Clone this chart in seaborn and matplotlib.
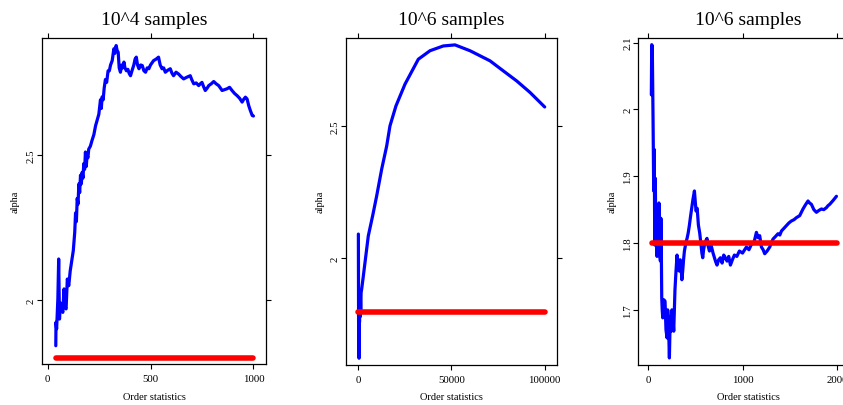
import matplotlib
matplotlib.use("Agg")
import matplotlib.pyplot as plt
import seaborn as sns
import pandas as pd

# ---------------- data ----------------
titles = ["10^4 samples", "10^6 samples", "10^6 samples"]
true_alpha = 1.8

p1_x = [40, 41, 44, 50, 54, 58, 62, 67, 74, 80, 85, 90, 96, 103, 110, 119, 125, 132,
        136, 140, 144, 148, 152, 156, 160, 164, 168, 172, 176, 180, 184, 188, 192,
        196, 200, 208, 216, 225, 233, 241, 249, 257, 261, 265, 270, 275, 281, 287,
        294, 300, 306, 314, 322, 327, 333, 338, 343, 348, 354, 360, 365, 371, 376,
        383, 390, 397, 403, 410, 419, 425, 431, 437, 444, 452, 460, 468, 476, 484,
        492, 500, 509, 515, 527, 539, 547, 556, 564, 572, 584, 596, 604, 612, 624,
        636, 648, 661, 677, 693, 700, 710, 722, 734, 742, 750, 758, 766, 775, 783,
        795, 807, 819, 831, 840, 848, 860, 872, 884, 896, 908, 921, 933, 945, 953,
        961, 969, 977, 985, 994, 1000]
p1_y = [1.842, 1.923, 1.900, 2.003, 2.141, 1.934, 1.990, 1.980, 1.957, 2.038, 1.975,
        1.969, 2.072, 2.049, 2.100, 2.141, 2.170, 2.233, 2.300, 2.270, 2.350, 2.330,
        2.400, 2.370, 2.430, 2.400, 2.440, 2.420, 2.470, 2.450, 2.510, 2.460, 2.500,
        2.490, 2.520, 2.530, 2.550, 2.570, 2.600, 2.620, 2.640, 2.690, 2.660, 2.700,
        2.690, 2.730, 2.760, 2.750, 2.790, 2.790, 2.810, 2.825, 2.866, 2.850, 2.877,
        2.860, 2.854, 2.800, 2.785, 2.810, 2.800, 2.820, 2.800, 2.790, 2.795, 2.780,
        2.773, 2.790, 2.810, 2.830, 2.837, 2.810, 2.797, 2.810, 2.808, 2.790, 2.785,
        2.800, 2.797, 2.810, 2.819, 2.825, 2.830, 2.837, 2.810, 2.797, 2.800, 2.785,
        2.792, 2.797, 2.782, 2.773, 2.785, 2.779, 2.770, 2.762, 2.768, 2.773, 2.760,
        2.745, 2.748, 2.739, 2.745, 2.750, 2.735, 2.722, 2.730, 2.739, 2.745, 2.753,
        2.745, 2.739, 2.730, 2.722, 2.725, 2.728, 2.733, 2.722, 2.712, 2.704, 2.695,
        2.682, 2.692, 2.699, 2.693, 2.670, 2.653, 2.636, 2.634]
p1_red_x = [40, 1000]

p2_x = [40, 150, 300, 400, 500, 650, 800, 950, 1100, 1300, 1500, 1800, 2700, 5360,
        7700, 9860, 12550, 15230, 17000, 20200, 25050, 32200, 38460, 45600, 51880,
        59930, 70650, 77800, 85000, 92100, 100000]
p2_y = [2.092, 1.76, 1.80, 1.624, 1.85, 1.76, 1.87, 1.78, 1.86, 1.80, 1.871, 1.884,
        1.934, 2.085, 2.161, 2.236, 2.337, 2.424, 2.500, 2.575, 2.657, 2.751, 2.783,
        2.801, 2.805, 2.783, 2.745, 2.707, 2.669, 2.626, 2.571]
p2_red_x = [0, 100000]

p3_x = [35, 39, 45, 53, 60, 66, 71, 77, 83, 88, 95, 103, 110, 115, 120, 126, 131, 136,
        140, 145, 150, 156, 168, 180, 190, 201, 208, 215, 226, 235, 243, 252, 261,
        272, 285, 296, 307, 320, 332, 340, 349, 358, 367, 376, 385, 400, 413, 425,
        438, 450, 462, 475, 491, 500, 508, 520, 533, 547, 561, 570, 579, 588, 597,
        610, 624, 637, 650, 662, 674, 688, 703, 716, 730, 748, 766, 784, 801, 818,
        836, 854, 872, 893, 914, 940, 967, 1000, 1041, 1068, 1094, 1120, 1147, 1165,
        1182, 1200, 1218, 1235, 1260, 1288, 1305, 1323, 1350, 1376, 1395, 1412, 1438,
        1464, 1490, 1517, 1545, 1570, 1605, 1640, 1665, 1693, 1710, 1729, 1755, 1782,
        1810, 1835, 1860, 1888, 1905, 1923, 1960, 1994]
p3_y = [2.022, 2.097, 2.095, 1.987, 1.878, 1.940, 1.797, 1.897, 1.800, 1.852, 1.780,
        1.827, 1.788, 1.860, 1.848, 1.780, 1.773, 1.837, 1.800, 1.718, 1.700, 1.688,
        1.715, 1.713, 1.670, 1.658, 1.700, 1.688, 1.628, 1.690, 1.668, 1.700, 1.693,
        1.668, 1.730, 1.758, 1.782, 1.760, 1.758, 1.775, 1.767, 1.745, 1.758, 1.775,
        1.788, 1.800, 1.807, 1.815, 1.827, 1.840, 1.852, 1.865, 1.878, 1.862, 1.848,
        1.852, 1.827, 1.815, 1.797, 1.785, 1.778, 1.790, 1.797, 1.803, 1.807, 1.795,
        1.788, 1.800, 1.793, 1.785, 1.778, 1.772, 1.767, 1.775, 1.778, 1.770, 1.782,
        1.778, 1.773, 1.780, 1.767, 1.775, 1.782, 1.780, 1.788, 1.785, 1.794, 1.790,
        1.798, 1.800, 1.816, 1.808, 1.811, 1.794, 1.790, 1.784, 1.788, 1.794, 1.800,
        1.806, 1.810, 1.814, 1.812, 1.818, 1.822, 1.826, 1.830, 1.833, 1.835, 1.838,
        1.841, 1.851, 1.857, 1.863, 1.860, 1.858, 1.850, 1.846, 1.849, 1.851, 1.850,
        1.853, 1.856, 1.858, 1.864, 1.870]
p3_red_x = [40, 2000]

x_ticks = [[0, 500, 1000], [0, 50000, 100000], [0, 1000, 2000]]
x_ticklabels = [["0", "500", "1000"], ["0", "50000", "100000"], ["0", "1000", "2000"]]
y_ticks = [[2, 2.5], [2, 2.5], [1.7, 1.8, 1.9, 2.0, 2.1]]
y_ticklabels = [["2", "2.5"], ["2", "2.5"], ["1.7", "1.8", "1.9", "2", "2.1"]]

# ---------------- style ----------------
sns.set_theme(style="ticks")
plt.rcParams["font.family"] = ["Liberation Serif", "DejaVu Serif"]
plt.rcParams["axes.edgecolor"] = "black"
plt.rcParams["axes.linewidth"] = 0.9

W, H = 843, 406
fig = plt.figure(figsize=(W / 100, H / 100), dpi=100)
fig.patch.set_facecolor("white")

# axes boxes in pixels: left, top, right, bottom
boxes = [(42, 39, 266, 365), (345.7, 39, 557, 365.6), (638.3, 39, 857.7, 365.6)]
xlims = [(-27, 1061), (-6760, 106600), (-103, 2219)]
ylims = [(1.779, 2.903), (1.60, 2.831), (1.618, 2.107)]

series = [(p1_x, p1_y, p1_red_x), (p2_x, p2_y, p2_red_x), (p3_x, p3_y, p3_red_x)]

for i, ((l, t, r, b), (bx, by, rx)) in enumerate(zip(boxes, series)):
    ax = fig.add_axes([l / W, (H - b) / H, (r - l) / W, (b - t) / H])
    ax.set_facecolor("white")
    blue = pd.DataFrame({"k": bx, "alpha": by})
    red = pd.DataFrame({"k": rx, "alpha": [true_alpha] * len(rx)})
    sns.lineplot(data=blue, x="k", y="alpha", ax=ax, color="#0000FF", lw=2.3,
                 estimator=None, sort=False, solid_joinstyle="round")
    sns.lineplot(data=red, x="k", y="alpha", ax=ax, color="#FF0000", lw=4.0,
                 estimator=None, sort=False, solid_capstyle="round")
    ax.set_xlim(*xlims[i])
    ax.set_ylim(*ylims[i])
    ax.set_xticks(x_ticks[i])
    ax.set_xticklabels(x_ticklabels[i])
    ax.set_yticks(y_ticks[i])
    ax.set_yticklabels(y_ticklabels[i], rotation=90, va="center")
    ax.tick_params(direction="out", length=3.8, width=0.8, color="black",
                   labelsize=7.8, labelcolor="black", top=True, right=True,
                   labeltop=False, labelright=False)
    ax.tick_params(axis="x", pad=3.5)
    ax.tick_params(axis="y", pad=0.5)
    for s in ax.spines.values():
        s.set_visible(True)
        s.set_color("black")
    bw = r - l
    bh = b - t
    ax.set_xlabel("Order statistics", fontsize=7.5, color="black")
    ax.xaxis.set_label_coords(0.5, -(398 - b) / bh)
    ax.xaxis.label.set_va("center")
    ax.set_ylabel("alpha", fontsize=7.5, color="black")
    ylab_x = [15, 320, 611.7][i]
    ax.yaxis.set_label_coords((ylab_x - l) / bw, 0.5)
    ax.yaxis.label.set_va("center")
    ax.text(0.5, 1 + (t - 20.5) / bh, titles[i], transform=ax.transAxes,
            ha="center", va="center", fontsize=14, color="black")

fig.savefig("out.png", dpi=100)
